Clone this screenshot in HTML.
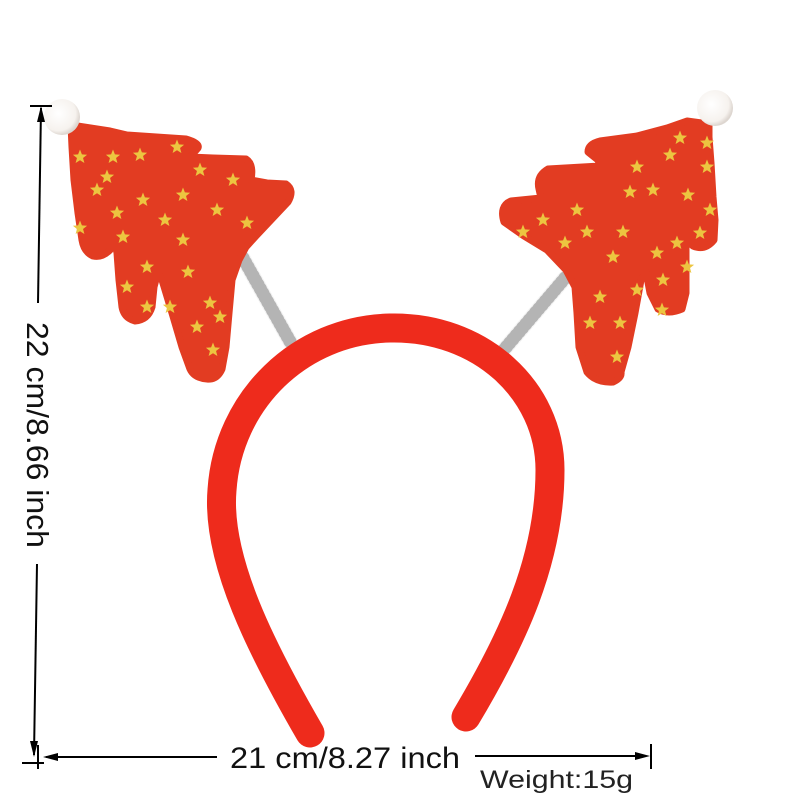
<!DOCTYPE html>
<html><head><meta charset="utf-8"><style>
html,body{margin:0;padding:0;background:#fff;}
svg{display:block;}
text{font-family:"Liberation Sans",sans-serif;}
</style></head><body>
<svg width="800" height="800" viewBox="0 0 800 800" xmlns="http://www.w3.org/2000/svg">
<defs>
<path id="s" d="M0,-7.5 L1.9,-2.6 L7.1,-2.3 L3.05,1 L4.4,6.05 L0,3.2 L-4.4,6.05 L-3.05,1 L-7.1,-2.3 L-1.9,-2.6 Z" fill="#ecc540"/>
<radialGradient id="ball" cx="0.4" cy="0.4" r="0.6"><stop offset="0" stop-color="#ffffff"/><stop offset="0.8" stop-color="#f6f2ee"/><stop offset="1" stop-color="#ddd6d0"/></radialGradient>
</defs>
<rect width="800" height="800" fill="#fff"/>

<!-- springs -->
<g stroke-linecap="round">
<line x1="243" y1="258" x2="292" y2="345" stroke="#f4f4f4" stroke-width="15"/>
<line x1="243" y1="258" x2="292" y2="345" stroke="#b4b4b4" stroke-width="13" stroke-dasharray="0.8 4.2"/>
<line x1="565" y1="278" x2="502" y2="352" stroke="#f4f4f4" stroke-width="15"/>
<line x1="565" y1="278" x2="502" y2="352" stroke="#b4b4b4" stroke-width="13" stroke-dasharray="0.8 4.2"/>
</g>

<!-- left tree -->
<path d="M71,125 L110,131 L127,135 L186,139 Q200,143 198,148 L190,157 L213,158 L246,159 Q254,164 251,180 L267,183 L286,184 Q295,190 288,202 L272,219 L256,236 L246,247 L239,260 L232,280 L229,313 L226,347 L222,369 Q217,380 207,379 Q194,378 190,369 L182,347 L172,313 L162,280 L158,272 L154,287 L152,307 Q148,320 135,321 Q124,318 122,307 L119,280 L117,253 L114,238 L110,250 Q102,258 93,256 Q84,252 82,240 L78,213 L74,180 L72,147 Z" fill="#e23c22" stroke="#e23c22" stroke-width="7" stroke-linejoin="round"/>
<g>
<use href="#s" x="80" y="157"/><use href="#s" x="113" y="157"/><use href="#s" x="140" y="155"/><use href="#s" x="177" y="147"/>
<use href="#s" x="97" y="190"/><use href="#s" x="143" y="200"/><use href="#s" x="183" y="195"/><use href="#s" x="107" y="177"/>
<use href="#s" x="217" y="210"/><use href="#s" x="247" y="223"/><use href="#s" x="165" y="220"/><use href="#s" x="183" y="240"/>
<use href="#s" x="233" y="180"/><use href="#s" x="200" y="170"/><use href="#s" x="127" y="287"/><use href="#s" x="147" y="267"/>
<use href="#s" x="188" y="272"/><use href="#s" x="210" y="303"/><use href="#s" x="220" y="317"/><use href="#s" x="197" y="327"/>
<use href="#s" x="213" y="350"/><use href="#s" x="123" y="237"/><use href="#s" x="80" y="228"/><use href="#s" x="117" y="213"/>
<use href="#s" x="147" y="307"/><use href="#s" x="170" y="307"/>
</g>
<circle cx="62" cy="117" r="18" fill="url(#ball)"/>

<!-- right tree -->
<path d="M709,124 L687,121 L667,128 L637,136 L600,141 Q588,144 588,152 L598,160 L600,166 L548,169 Q536,176 539,189 L541,198 L511,201 Q499,206 504,222 L524,236 L547,250 L566,270 L575,287 L577,313 L579,347 L587,372 Q596,383 613,382 Q622,378 621,372 L628,347 L635,313 L641,280 L646,272 L650,293 L658,309 Q668,315 682,309 L686,293 L686,260 L686,240 L693,246 Q705,251 714,240 L715,220 L713,197 L711,163 L709,137 Z" fill="#e23c22" stroke="#e23c22" stroke-width="7" stroke-linejoin="round"/>
<g>
<use href="#s" x="670" y="155"/><use href="#s" x="637" y="167"/><use href="#s" x="680" y="138"/><use href="#s" x="707" y="143"/>
<use href="#s" x="630" y="192"/><use href="#s" x="653" y="190"/><use href="#s" x="688" y="195"/><use href="#s" x="707" y="167"/>
<use href="#s" x="577" y="210"/><use href="#s" x="543" y="220"/><use href="#s" x="587" y="232"/><use href="#s" x="623" y="232"/>
<use href="#s" x="565" y="243"/><use href="#s" x="523" y="232"/><use href="#s" x="613" y="257"/><use href="#s" x="657" y="253"/>
<use href="#s" x="677" y="243"/><use href="#s" x="710" y="210"/><use href="#s" x="700" y="233"/><use href="#s" x="663" y="280"/>
<use href="#s" x="687" y="267"/><use href="#s" x="637" y="290"/><use href="#s" x="600" y="297"/><use href="#s" x="590" y="323"/>
<use href="#s" x="620" y="323"/><use href="#s" x="617" y="357"/><use href="#s" x="662" y="310"/>
</g>
<circle cx="715" cy="108" r="18" fill="url(#ball)"/>

<!-- headband -->
<path d="M310,733 C262,650 216,560 222,490 C228,400 300,330 390,328 C480,326 550,390 550,470 C550,560 512,640 466,717" fill="none" stroke="#ee2b1c" stroke-width="29" stroke-linecap="round"/>

<!-- dimension lines -->
<g stroke="#000" stroke-width="2" fill="none">
<line x1="30" y1="106" x2="52" y2="106"/>
<line x1="41" y1="108" x2="38" y2="303"/>
<line x1="37" y1="564" x2="34" y2="755"/>
<line x1="22" y1="763" x2="44" y2="763"/>
<line x1="38" y1="745" x2="38" y2="769"/>
<line x1="46" y1="757" x2="217" y2="757"/>
<line x1="475" y1="756" x2="645" y2="756"/>
<line x1="651" y1="744" x2="651" y2="769"/>
</g>
<g fill="#000">
<polygon points="41,106 37,122 45,122"/>
<polygon points="34,757 30,741 38,741"/>
<polygon points="43,757 58,753 58,761"/>
<polygon points="650,756 635,752 635,760"/>
</g>
<text x="0" y="0" font-size="31" fill="#111" textLength="226" lengthAdjust="spacingAndGlyphs" transform="translate(27,322) rotate(90)">22 cm/8.66 inch</text>
<text x="230" y="768" font-size="30" fill="#111" textLength="230" lengthAdjust="spacingAndGlyphs">21 cm/8.27 inch</text>
<text x="480" y="788" font-size="25" fill="#222" textLength="153" lengthAdjust="spacingAndGlyphs">Weight:15g</text>
</svg>
</body></html>
